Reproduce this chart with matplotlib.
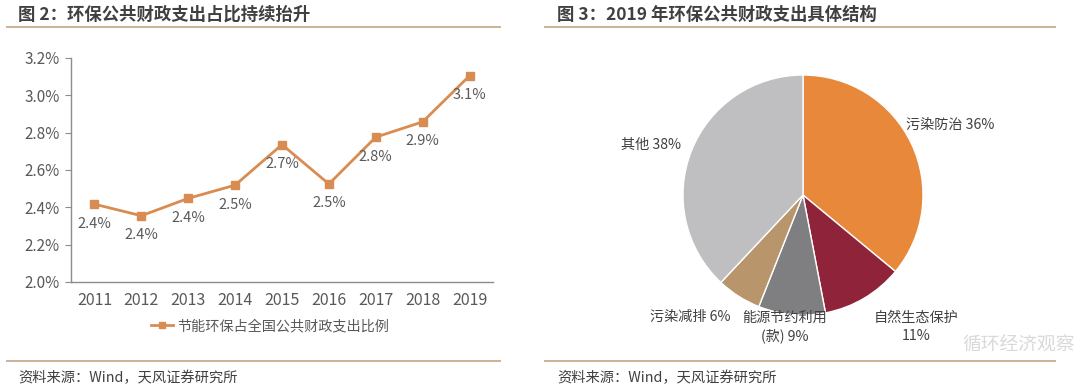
import matplotlib.pyplot as plt
from matplotlib.lines import Line2D

plt.rcParams['font.family'] = ['Noto Sans CJK SC', 'DejaVu Sans']

# 图 2 data
years = ['2011', '2012', '2013', '2014', '2015', '2016', '2017', '2018', '2019']
share = [2.417, 2.355, 2.448, 2.519, 2.736, 2.525, 2.776, 2.858, 3.105]
y_ticks = [2.0, 2.2, 2.4, 2.6, 2.8, 3.0, 3.2]
series_name = '节能环保占全国公共财政支出比例'

# 图 3 data
pie_names = ['污染防治', '自然生态保护', '能源节约利用\n(款)', '污染减排', '其他']
pie_values = [36, 11, 9, 6, 38]
pie_colors = ['#E8883A', '#8E2339', '#7F7F82', '#B8956A', '#BFBFC2']

text_dark = '#404040'
text_gray = '#595959'
rule_color = '#CDB294'
line_color = '#D98C52'

fig = plt.figure(figsize=(10.8, 3.9), dpi=100)

# headers / footers
fig.text(18 / 1080, 1 - 15 / 390, '图 2：环保公共财政支出占比持续抬升', fontsize=12.5,
         fontweight='bold', color=text_dark, va='center', ha='left')
fig.text(557 / 1080, 1 - 15 / 390, '图 3：2019 年环保公共财政支出具体结构', fontsize=12.5,
         fontweight='bold', color=text_dark, va='center', ha='left')
for x0, x1 in [(7, 500), (545, 1055)]:
    for yy in (27, 361):
        fig.add_artist(Line2D([x0 / 1080, x1 / 1080], [1 - yy / 390] * 2,
                              color=rule_color, lw=1.4))
for xs in (18, 557):
    fig.text(xs / 1080, 1 - 378 / 390, '资料来源：Wind，天风证券研究所', fontsize=10.3,
             color=text_dark, va='center', ha='left')

# line chart
ax = fig.add_axes([71 / 1080, 1 - 282 / 390, 422 / 1080, 224 / 390])
xs = list(range(len(years)))
ax.plot(xs, share, color=line_color, lw=2, marker='s', markersize=5.5,
        label=series_name)
for x, v in zip(xs, share):
    ax.annotate(f'{v:.1f}%', (x, v), xytext=(0, -14), textcoords='offset points',
                ha='center', va='center', fontsize=10.5, color=text_gray)
ax.set_xlim(-0.5, len(years) - 0.5)
ax.set_ylim(2.0, 3.2)
ax.set_xticks(xs)
ax.set_xticklabels(years)
ax.set_yticks(y_ticks)
ax.set_yticklabels([f'{t:.1f}%' for t in y_ticks])
for s in ('top', 'right'):
    ax.spines[s].set_visible(False)
for s in ('left', 'bottom'):
    ax.spines[s].set_color('#8C8C8C')
    ax.spines[s].set_linewidth(1)
ax.tick_params(axis='y', length=4, color='#8C8C8C', labelsize=11,
               labelcolor=text_gray, pad=4)
ax.tick_params(axis='x', length=0, labelsize=11.5, labelcolor=text_gray, pad=7)
ax.legend(loc='center', bbox_to_anchor=(270 / 1080, 1 - 326 / 390),
          bbox_transform=fig.transFigure, frameon=False, fontsize=10.2,
          labelcolor=text_gray, handlelength=1.6, handletextpad=0.3, markerscale=0.8)

# pie chart
pax = fig.add_axes([(803 - 120) / 1080, (390 - 195 - 120) / 390, 240 / 1080, 240 / 390])
wedges, _ = pax.pie(pie_values, colors=pie_colors, startangle=90, counterclock=False,
                    radius=1, wedgeprops=dict(edgecolor='white', linewidth=1))
pax.set_xlim(-1, 1)
pax.set_ylim(-1, 1)
pax.set_aspect('equal')

label_pos = [(0.86, 0.58, 'left'), (0.94, -1.10, 'center'), (-0.15, -1.10, 'center'),
             (-0.60, -1.02, 'right'), (-1.02, 0.42, 'right')]
for name, v, (lx, ly, ha) in zip(pie_names, pie_values, label_pos):
    if name == '自然生态保护':
        txt = f'{name}\n{v}%'
    else:
        txt = f'{name} {v}%'
    pax.text(lx, ly, txt, ha=ha, va='center', fontsize=10.2, color=text_dark,
             linespacing=1.3, clip_on=False)

# watermark
fig.text(962 / 1080, 1 - 344 / 390, '循环经济观察', fontsize=13.5, color='#D5D5D5',
         ha='left', va='center', alpha=0.9)

fig.savefig('out.png', dpi=100, facecolor='white')
